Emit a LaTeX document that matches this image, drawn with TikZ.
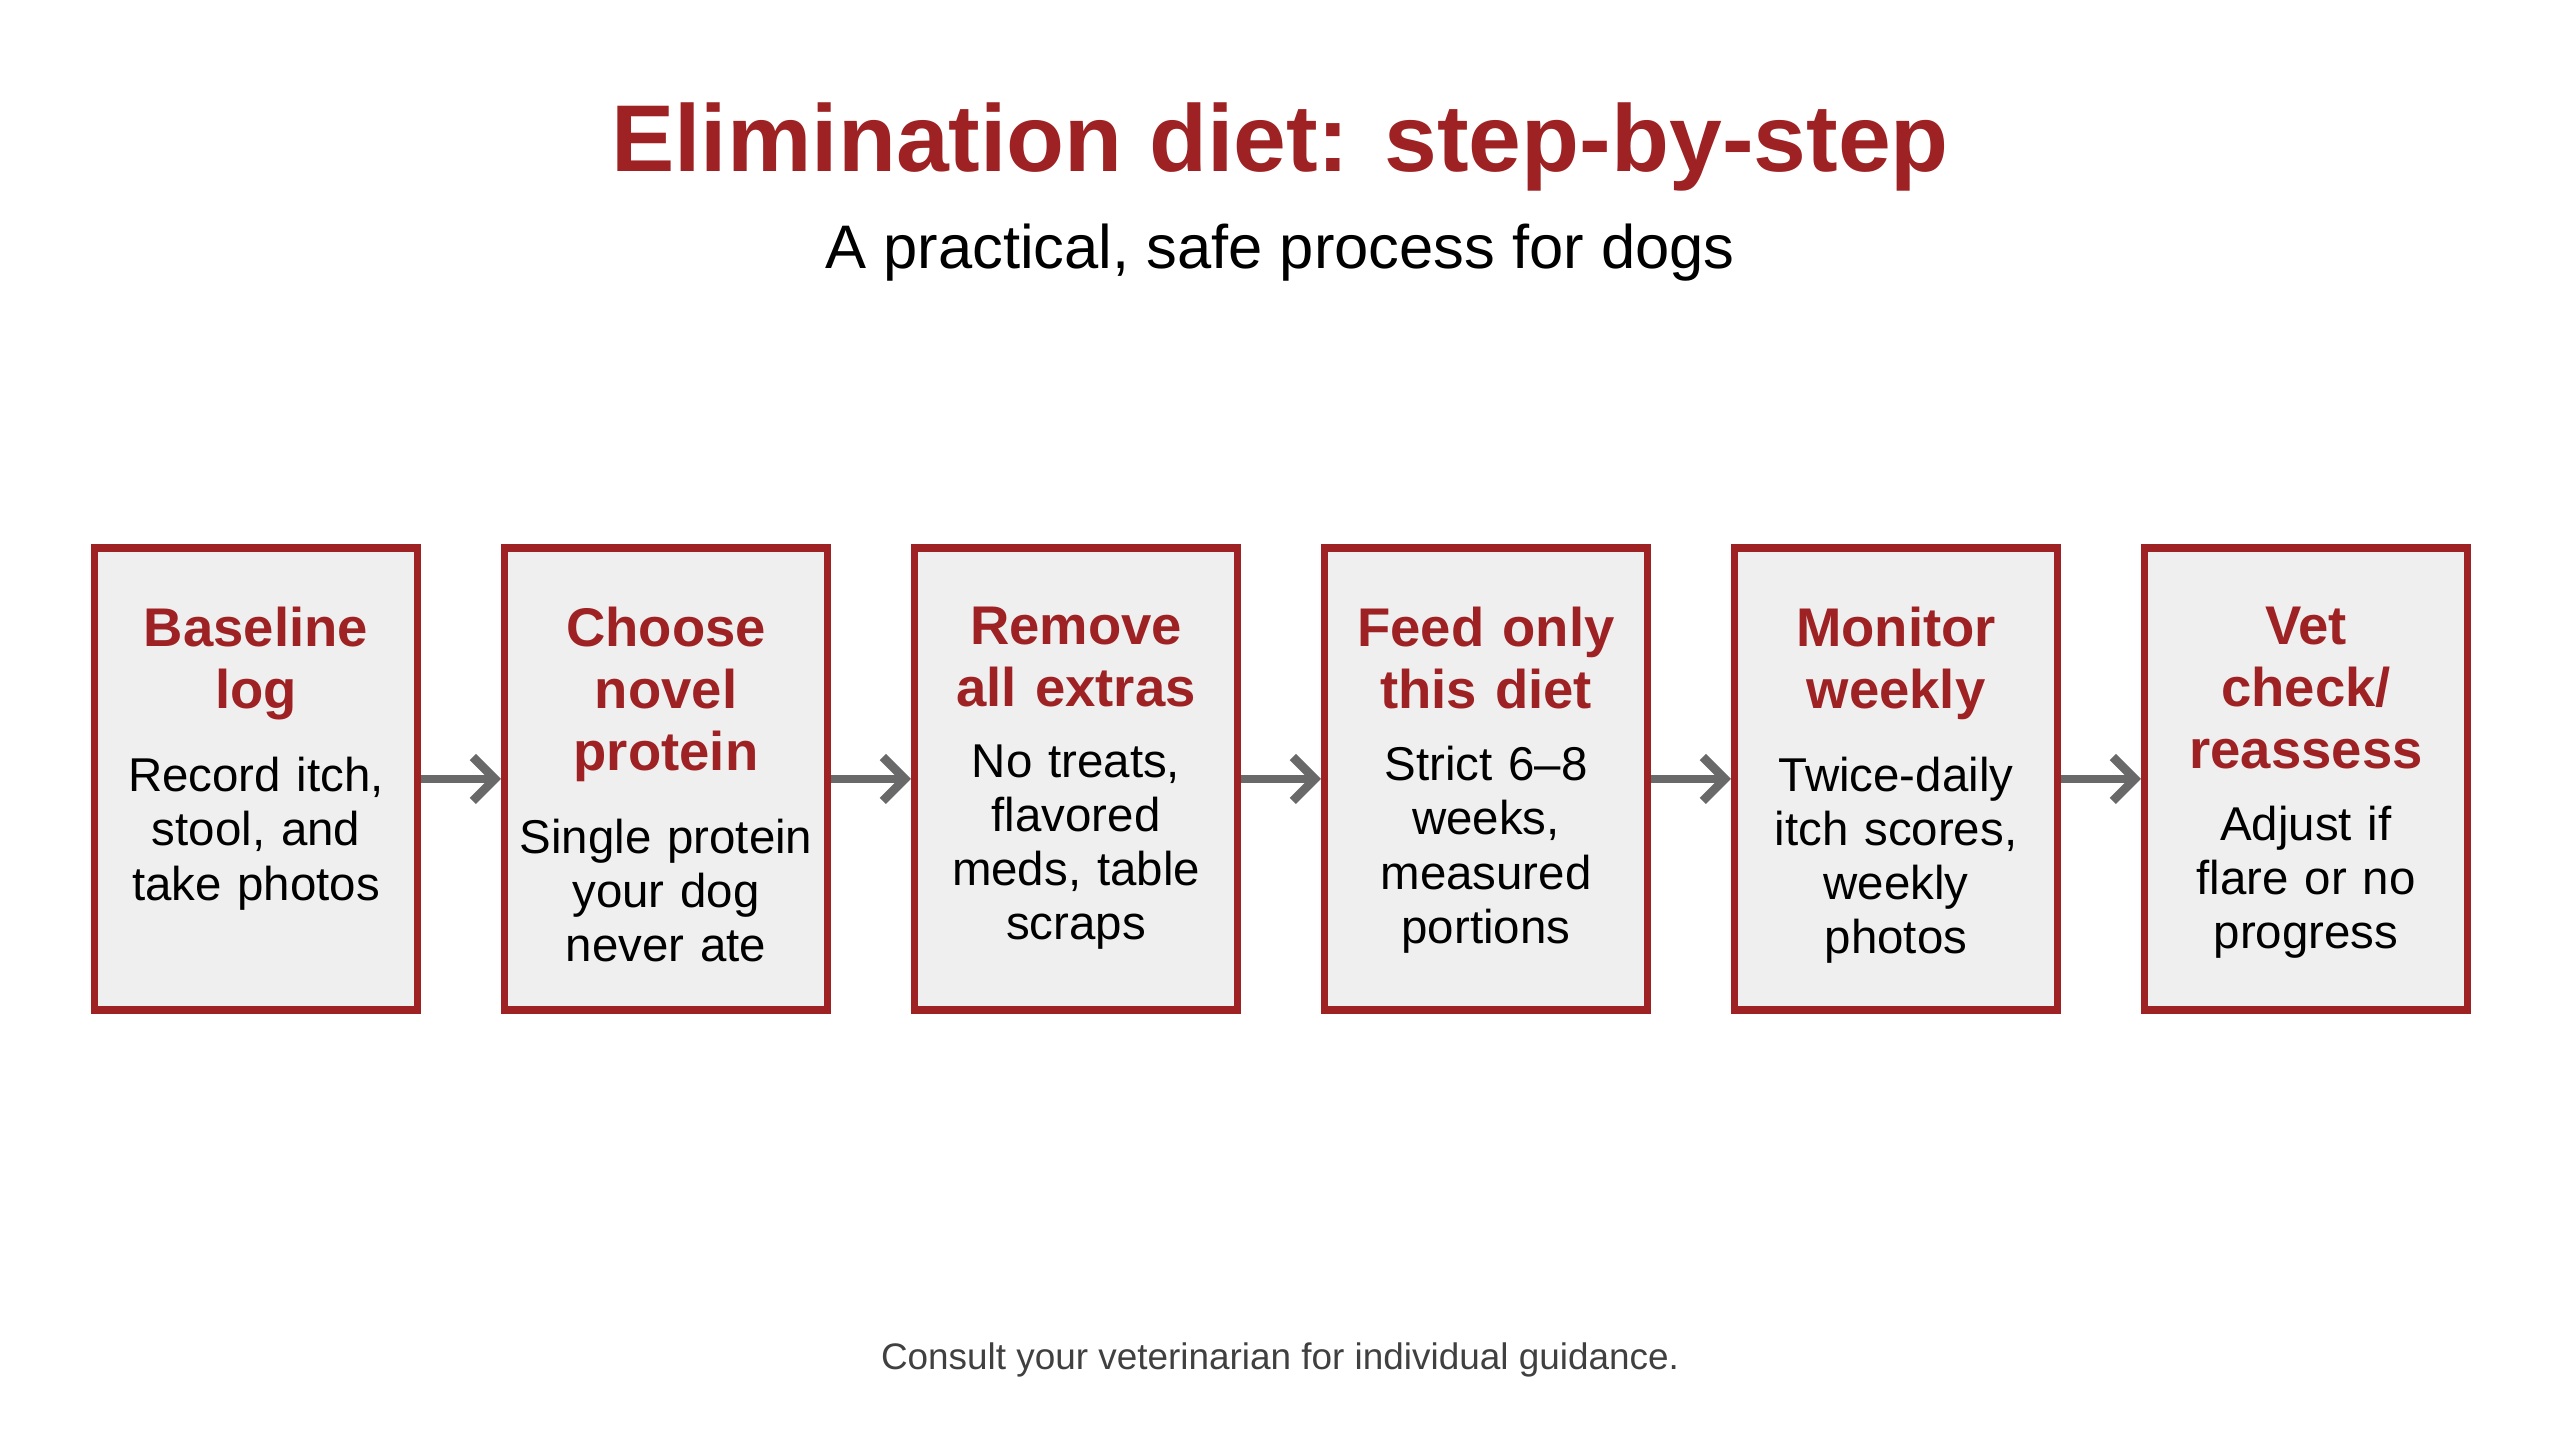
\documentclass[tikz,border=0pt]{standalone}
\usepackage{fontspec}
\setmainfont{Liberation Sans}
\usetikzlibrary{positioning, arrows.meta}
\definecolor{dietred}{RGB}{158,34,36}
\definecolor{boxgray}{RGB}{239,239,239}
\definecolor{arrowgray}{RGB}{105,105,105}

\begin{document}
\begin{tikzpicture}[
  stepbox/.style={draw=dietred, line width=2pt, fill=boxgray, minimum width=3.23cm, minimum height=4.62cm},
  stephead/.style={inner sep=0pt, text width=3.2cm, align=center, text=dietred, font=\fontsize{15.5}{17.6}\selectfont\bfseries},
  stepbody/.style={inner sep=0pt, text width=3.2cm, align=center, font=\fontsize{13.5}{15.4}\selectfont},
  steparrow/.style={draw=arrowgray, line width=2.5pt, -{Straight Barb[length=2.2mm, width=4.4mm]}}
]
\useasboundingbox (0,0) rectangle (25.6,14.29);

% title
\node[text=dietred, font=\fontsize{27}{30}\selectfont\bfseries] (title) at (12.8,12.82) {Elimination diet: step-by-step};
\node[font=\fontsize{17.5}{20}\selectfont] (subtitle) at (12.8,11.76) {A practical, safe process for dogs};

% steps
\foreach \x/\n/\head/\body in {
  2.56/1/{Baseline\\log}/{Record itch,\\stool, and\\take photos},
  6.66/2/{Choose\\novel\\protein}/{Single protein\\your dog\\never ate},
  10.76/3/{Remove\\all extras}/{No treats,\\flavored\\meds, table\\scraps},
  14.86/4/{Feed only\\this diet}/{Strict 6–8\\weeks,\\measured\\portions},
  18.96/5/{Monitor\\weekly}/{Twice-daily\\itch scores,\\weekly\\photos},
  23.06/6/{Vet\\check/\\reassess}/{Adjust if\\flare or no\\progress}} {
  \node[stepbox] (b\n) at (\x,6.50) {};
  \node[stephead, below=0.62cm of b\n.north] (h\n) {\head};
  \node[stepbody, below=0.36cm of h\n] (t\n) {\body};
}

\foreach \i [count=\k from 2] in {1,...,5} {
  \draw[steparrow] (b\i.east) -- (b\k.west);
}

% footer
\node[text=black!75, font=\fontsize{10.5}{12}\selectfont] (note) at (12.8,0.69) {Consult your veterinarian for individual guidance.};

\end{tikzpicture}
\end{document}
